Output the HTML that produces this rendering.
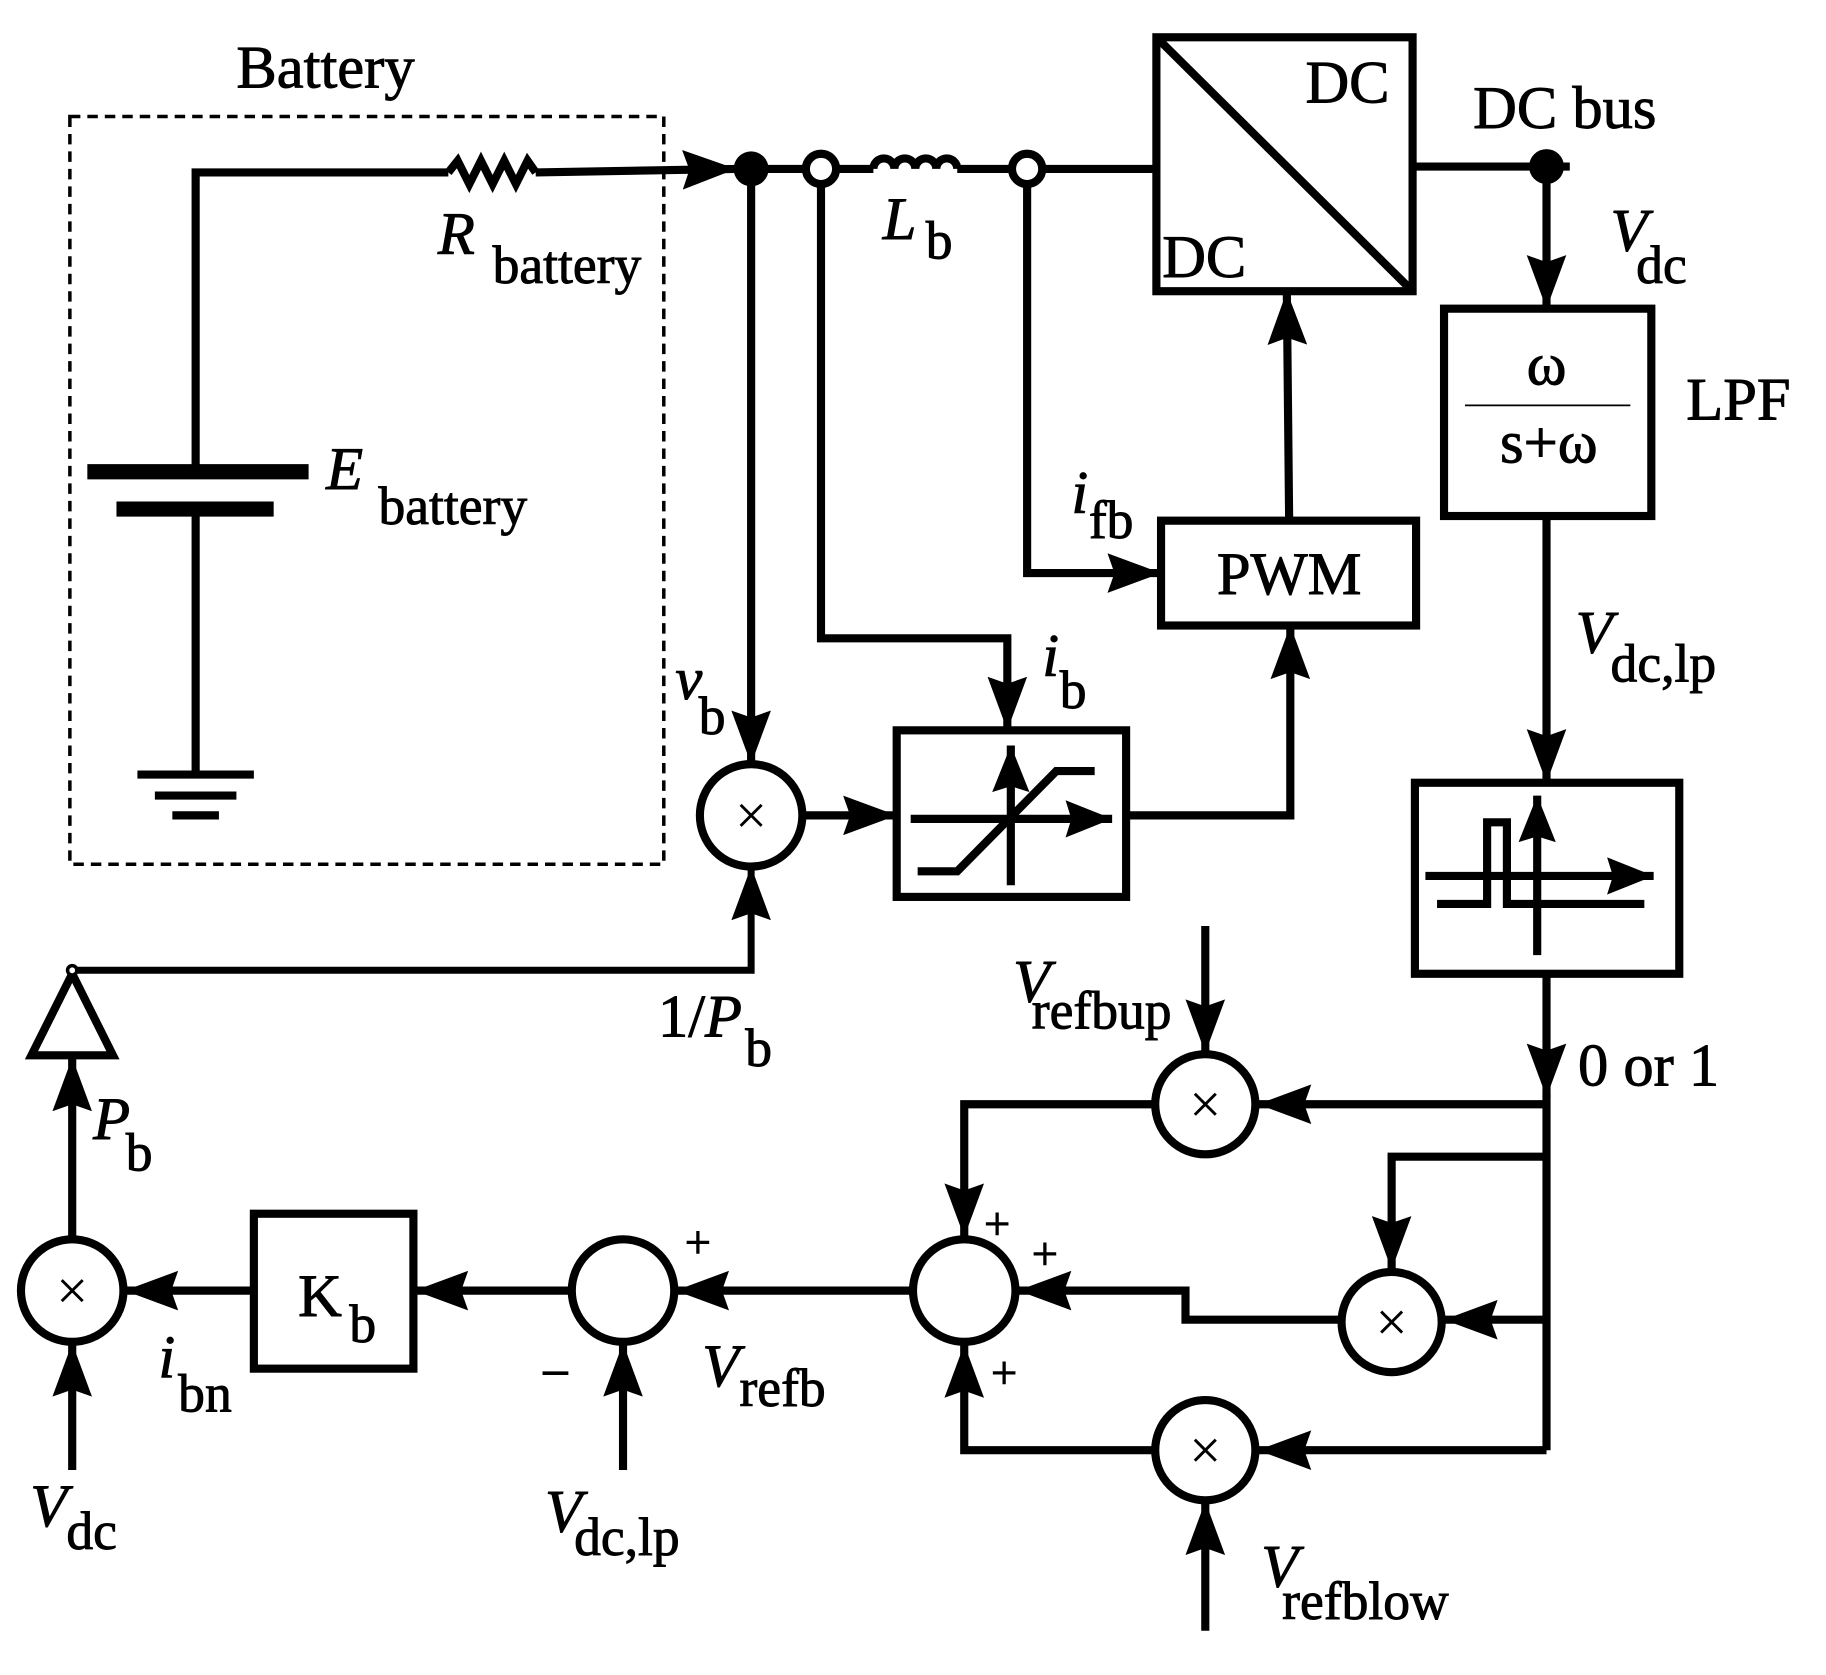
<!DOCTYPE html>
<html><head><meta charset="utf-8"><style>
html,body{margin:0;padding:0;background:#fff;}
svg{display:block;}
text{font-family:"Liberation Serif",serif;fill:#000;stroke:#000;stroke-width:0.8;}
.i{font-style:italic;}
</style></head><body>
<svg width="1826" height="1675" viewBox="0 0 1568 1438" preserveAspectRatio="none" xmlns="http://www.w3.org/2000/svg">
<defs>
<marker id="a" markerWidth="46" markerHeight="34" refX="46" refY="17" orient="auto" markerUnits="userSpaceOnUse"><path d="M0,0 L46,17 L0,34 L6,17 z"/></marker>
<marker id="s" markerWidth="40" markerHeight="32" refX="40" refY="16" orient="auto" markerUnits="userSpaceOnUse"><path d="M0,0 L40,16 L0,32 L5,16 z"/></marker>
</defs>
<g fill="none" stroke="#000" stroke-width="7">
<rect x="60" y="100" width="510" height="642" stroke-width="3" stroke-dasharray="9,6"/>
<polyline points="168,405 168,148 385,148"/>
<polyline points="385,148 393,138 403,158 413,138 423,158 433,138 443,158 453,138 460,148"/>
<line x1="460" y1="148" x2="632" y2="145" marker-end="url(#a)"/>
<line x1="75" y1="405" x2="265" y2="405" stroke-width="13"/>
<line x1="100" y1="437" x2="235" y2="437" stroke-width="13"/>
<line x1="168" y1="437" x2="168" y2="665"/>
<line x1="118" y1="665" x2="218" y2="665"/>
<line x1="133" y1="683" x2="203" y2="683"/>
<line x1="148" y1="700" x2="188" y2="700"/>
<line x1="645" y1="145" x2="692" y2="145"/>
<line x1="718" y1="145" x2="750" y2="145"/>
<path d="M750,145 a9,9 0 0 1 18,0 a9,9 0 0 1 18,0 a9,9 0 0 1 18,0 a9,9 0 0 1 18,0"/>
<line x1="822" y1="145" x2="869" y2="145"/>
<line x1="895" y1="145" x2="993" y2="145"/>
<circle cx="705" cy="145" r="13"/>
<circle cx="882" cy="145" r="13"/>
<rect x="993" y="32" width="220" height="218"/>
<line x1="993" y1="32" x2="1213" y2="250"/>
<line x1="1213" y1="143" x2="1348" y2="143"/>
<line x1="1328" y1="143" x2="1328" y2="265" marker-end="url(#a)"/>
<rect x="1240" y="265" width="178" height="178"/>
<line x1="1258" y1="348" x2="1400" y2="348" stroke-width="1.5"/>
<line x1="1328" y1="443" x2="1328" y2="672" marker-end="url(#a)"/>
<rect x="1215" y="672" width="227" height="164"/>
<line x1="1224" y1="752" x2="1420" y2="752" marker-end="url(#s)"/>
<polyline points="1234,776 1277,776 1277,706 1294,706 1294,776 1412,776"/>
<line x1="1320" y1="820" x2="1320" y2="683" marker-end="url(#s)"/>
<line x1="1328" y1="836" x2="1328" y2="942" marker-end="url(#a)"/>
<line x1="1328" y1="940" x2="1328" y2="1245"/>
<line x1="1328" y1="948" x2="1080" y2="948" marker-end="url(#a)"/>
<polyline points="1328,993 1195,993 1195,1090" marker-end="url(#a)"/>
<line x1="1328" y1="1133" x2="1240" y2="1133" marker-end="url(#a)"/>
<line x1="1328" y1="1245" x2="1080" y2="1245" marker-end="url(#a)"/>
<circle cx="1035" cy="948" r="43"/>
<circle cx="1195" cy="1135" r="43"/>
<circle cx="1035" cy="1245" r="43"/>
<line x1="1035" y1="795" x2="1035" y2="904" marker-end="url(#a)"/>
<line x1="1035" y1="1400" x2="1035" y2="1289" marker-end="url(#a)"/>
<polyline points="991,948 828,948 828,1062" marker-end="url(#a)"/>
<polyline points="1151,1133 1018,1133 1018,1108 874,1108" marker-end="url(#a)"/>
<polyline points="991,1245 828,1245 828,1154" marker-end="url(#a)"/>
<circle cx="828" cy="1108" r="44"/>
<line x1="784" y1="1108" x2="580" y2="1108" marker-end="url(#a)"/>
<circle cx="535" cy="1108" r="44"/>
<line x1="535" y1="1262" x2="535" y2="1153" marker-end="url(#a)"/>
<line x1="491" y1="1108" x2="356" y2="1108" marker-end="url(#a)"/>
<rect x="218" y="1042" width="137" height="133"/>
<line x1="218" y1="1108" x2="107" y2="1108" marker-end="url(#a)"/>
<circle cx="62" cy="1108" r="44"/>
<line x1="62" y1="1262" x2="62" y2="1153" marker-end="url(#a)"/>
<line x1="62" y1="1064" x2="62" y2="908" marker-end="url(#a)"/>
<polygon points="62,836 27,906 97,906"/>
<polyline points="62,833 645,833 645,744" marker-end="url(#a)" stroke-width="6"/>
<circle cx="62" cy="833" r="4" stroke-width="3" fill="#fff"/>
<circle cx="645" cy="700" r="44"/>
<line x1="645" y1="145" x2="645" y2="656" marker-end="url(#a)"/>
<line x1="689" y1="700" x2="770" y2="700" marker-end="url(#a)"/>
<rect x="770" y="627" width="197" height="143"/>
<line x1="782" y1="703" x2="955" y2="703" marker-end="url(#s)"/>
<line x1="868" y1="760" x2="868" y2="640" marker-end="url(#s)"/>
<polyline points="788,748 822,748 907,662 940,662"/>
<polyline points="705,158 705,548 865,548 865,627" marker-end="url(#a)"/>
<polyline points="967,700 1108,700 1108,537" marker-end="url(#a)"/>
<rect x="997" y="447" width="219" height="90"/>
<polyline points="882,158 882,492 997,492" marker-end="url(#a)"/>
<line x1="1107" y1="447" x2="1105" y2="250" marker-end="url(#a)"/>
</g>
<g fill="#000">
<circle cx="645" cy="145" r="15"/>
<circle cx="1328" cy="143" r="15"/>
</g>
<g stroke="#000" stroke-width="2.5">
<line x1="636" y1="691" x2="654" y2="709"/><line x1="654" y1="691" x2="636" y2="709"/>
<line x1="1026" y1="939" x2="1044" y2="957"/><line x1="1044" y1="939" x2="1026" y2="957"/>
<line x1="1186" y1="1126" x2="1204" y2="1144"/><line x1="1204" y1="1126" x2="1186" y2="1144"/>
<line x1="1026" y1="1236" x2="1044" y2="1254"/><line x1="1044" y1="1236" x2="1026" y2="1254"/>
<line x1="53" y1="1099" x2="71" y2="1117"/><line x1="71" y1="1099" x2="53" y2="1117"/>
</g>
<g font-size="52">
<text x="203" y="75">Battery</text>
<text x="376" y="218" class="i">R</text><text x="423" y="243" font-size="46">battery</text>
<text x="280" y="420" class="i">E</text><text x="325" y="450" font-size="46">battery</text>
<text x="758" y="205" class="i">L</text><text x="795" y="222" font-size="46">b</text>
<text x="1121" y="88">DC</text>
<text x="998" y="238">DC</text>
<text x="1265" y="110">DC bus</text>
<text x="1383" y="215" class="i">V</text><text x="1405" y="243" font-size="46">dc</text>
<text x="1328" y="330" text-anchor="middle">ω</text>
<text x="1330" y="397" text-anchor="middle">s+ω</text>
<text x="1448" y="360">LPF</text>
<text x="1353" y="560" class="i">V</text><text x="1383" y="585" font-size="46">dc,lp</text>
<text x="1355" y="932">0 or 1</text>
<text x="920" y="440" class="i">i</text><text x="935" y="462" font-size="46">fb</text>
<text x="1107" y="510" text-anchor="middle">PWM</text>
<text x="895" y="580" class="i">i</text><text x="910" y="608" font-size="46">b</text>
<text x="580" y="600" class="i">v</text><text x="600" y="630" font-size="46">b</text>
<text x="565" y="890">1/<tspan class="i">P</tspan></text><text x="640" y="915" font-size="46">b</text>
<text x="870" y="860" class="i">V</text><text x="886" y="883" font-size="46">refbup</text>
<text x="1083" y="1362" class="i">V</text><text x="1101" y="1390" font-size="46">refblow</text>
<text x="845" y="1064" font-size="40">+</text>
<text x="886" y="1090" font-size="40">+</text>
<text x="851" y="1192" font-size="40">+</text>
<text x="588" y="1080" font-size="40">+</text>
<text x="464" y="1194" font-size="46">−</text>
<text x="603" y="1190" class="i">V</text><text x="635" y="1207" font-size="46">refb</text>
<text x="468" y="1315" class="i">V</text><text x="493" y="1335" font-size="46">dc,lp</text>
<text x="256" y="1130">K</text><text x="300" y="1152" font-size="46">b</text>
<text x="136" y="1182" class="i">i</text><text x="153" y="1212" font-size="46">bn</text>
<text x="26" y="1310" class="i">V</text><text x="57" y="1330" font-size="46">dc</text>
<text x="80" y="978" class="i">P</text><text x="108" y="1005" font-size="46">b</text>
</g>
</svg>
</body></html>
